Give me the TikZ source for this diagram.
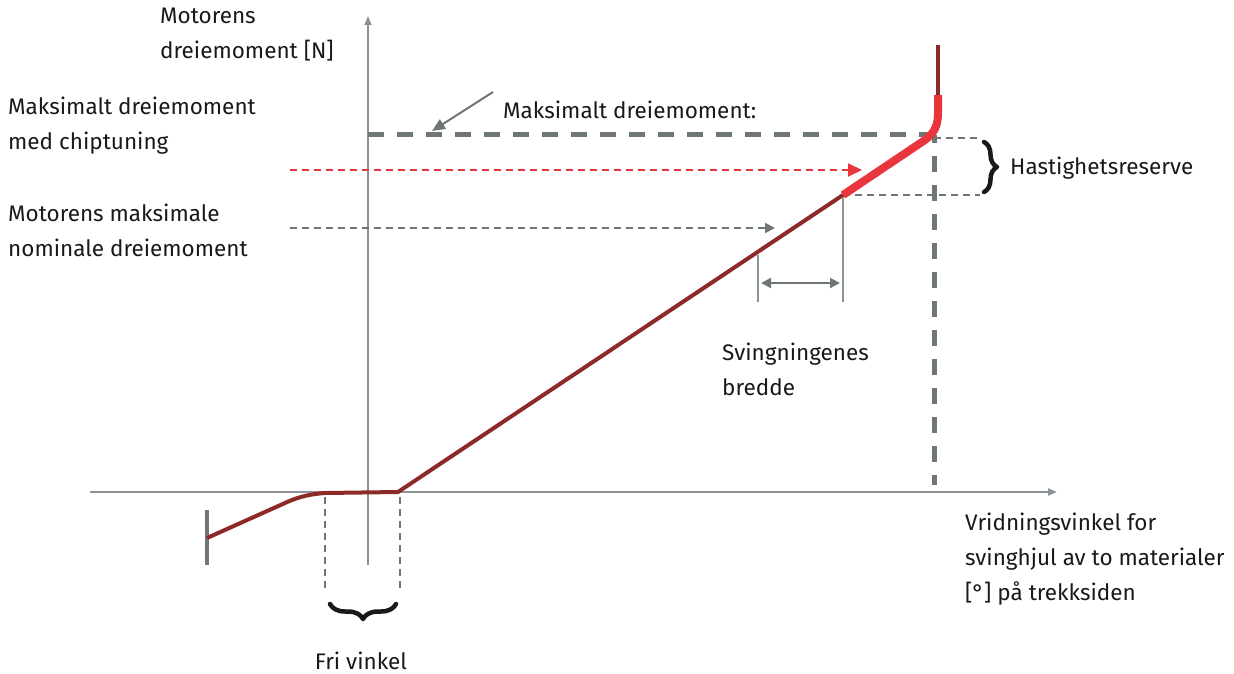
\documentclass[tikz,border=0pt]{standalone}
\usepackage{fontspec}
\setmainfont{Fira Sans}
\usetikzlibrary{arrows.meta,decorations.pathreplacing}
\definecolor{darkred}{RGB}{140,42,40}
\definecolor{brightred}{RGB}{232,54,60}
\definecolor{dgray}{RGB}{110,118,120}
\definecolor{agray}{RGB}{140,146,150}
\definecolor{txt}{RGB}{25,25,25}
\tikzset{
  lbl/.style={font=\fontsize{22.5}{35}\selectfont, text=txt, align=left, inner sep=0pt},
  axis/.style={agray, line width=2pt, -{Triangle[length=9pt,width=7pt]}},
  thickdash/.style={dgray, line width=5pt, dash pattern=on 16pt off 13pt},
  thindash/.style={dgray, line width=2pt, dash pattern=on 7pt off 5pt},
  curve/.style={darkred, line width=4pt},
  hot/.style={brightred, line width=8pt},
  brc/.style={txt, line width=4.5pt, line cap=round, line join=round, decorate, decoration={brace, amplitude=13pt}},
}
\begin{document}
\begin{tikzpicture}[x=1pt,y=-1pt]
\useasboundingbox (0,0) rectangle (1234,674);
% axes
\coordinate (ybot) at (368,565);
\coordinate (ytop) at (368,16);
\coordinate (xl) at (90,492);
\coordinate (xr) at (1057,492);
\draw[axis] (ybot) -- (ytop);
\draw[axis] (xl) -- (xr);
% max torque dashed
\coordinate (m1) at (368,135);
\coordinate (m2) at (934,135);
\coordinate (m3) at (934,485);
\draw[thickdash] (m1) -- (m2);
\draw[thickdash, dash phase=8pt] (m2) -- (m3);
% reserve thin dashes
\coordinate (r1) at (934,138);
\coordinate (r2) at (980,138);
\coordinate (r3) at (843,195);
\coordinate (r4) at (980,195);
\draw[thindash] (r1) -- (r2);
\draw[thindash] (r3) -- (r4);
% curve
\coordinate (c0) at (207,538);
\coordinate (c1) at (325,493);
\coordinate (c2) at (398,492);
\coordinate (c3) at (843,195);
\coordinate (c4) at (938,95);
\coordinate (c5) at (938,45);
\draw[dgray, line width=4pt] (207,510) -- (207,565);
\draw[curve, line join=round] (c0) -- (285,503) .. controls (300,496) and (312,494) .. (c1) -- (c2) -- (c3);
\draw[hot] (c3) -- (922,142) .. controls (936,133) and (938,124) .. (938,112) -- (c4);
\draw[curve] (c4) -- (c5);
% Fri vinkel
\coordinate (f1) at (325,497);
\coordinate (f1b) at (325,590);
\coordinate (f2) at (400,497);
\coordinate (f2b) at (400,590);
\draw[thindash, line width=2.5pt] (f1) -- (f1b);
\draw[thindash, line width=2.5pt] (f2) -- (f2b);
\coordinate (b1) at (396,604);
\coordinate (b2) at (330,604);
\draw[brc, decoration={amplitude=15pt}] (b1) -- (b2);
\node[lbl, anchor=base] (fri) at (361,669) {Fri vinkel};
% arrows
\coordinate (ra1) at (290,170);
\coordinate (ra2) at (862,170);
\draw[brightred, line width=2pt, dash pattern=on 7pt off 5pt, -{Triangle[length=14pt,width=13pt]}] (ra1) -- (ra2);
\coordinate (ga1) at (290,228);
\coordinate (ga2) at (775,228);
\draw[thindash, -{Triangle[length=10pt,width=10pt]}] (ga1) -- (ga2);
\coordinate (p1) at (493,92);
\coordinate (p2) at (432,131);
\draw[dgray, line width=2pt, -{Triangle[length=13pt,width=11pt]}] (p1) -- (p2);
% oscillation width
\coordinate (v1t) at (758,255);
\coordinate (v1b) at (758,302);
\coordinate (v2t) at (843,197);
\coordinate (v2b) at (843,302);
\draw[agray, line width=2pt] (v1t) -- (v1b);
\draw[agray, line width=2pt] (v2t) -- (v2b);
\coordinate (w1) at (761,283);
\coordinate (w2) at (840,283);
\draw[dgray, line width=2pt, {Triangle[length=10pt,width=10pt]}-{Triangle[length=10pt,width=10pt]}] (w1) -- (w2);
% reserve brace
\coordinate (h1) at (984,142);
\coordinate (h2) at (984,192);
\draw[brc] (h1) -- (h2);
% labels
\node[lbl, anchor=north west] (ylab) at (160,8) {Motorens\\dreiemoment [N]};
\node[lbl, anchor=north west] (chip) at (8,97) {Maksimalt dreiemoment\\med chiptuning};
\node[lbl, anchor=north west] (nom) at (8,204) {Motorens maksimale\\nominale dreiemoment};
\node[lbl, anchor=west] (maxl) at (503,110) {Maksimalt dreiemoment:};
\node[lbl, anchor=west] (hast) at (1010,168) {Hastighetsreserve};
\node[lbl, anchor=north west] (sving) at (722,343) {Svingningenes\\bredde};
\node[lbl, anchor=north west] (xlab) at (965,513) {Vridningsvinkel for\\svinghjul av to materialer\\{[°]} på trekksiden};
\end{tikzpicture}
\end{document}
